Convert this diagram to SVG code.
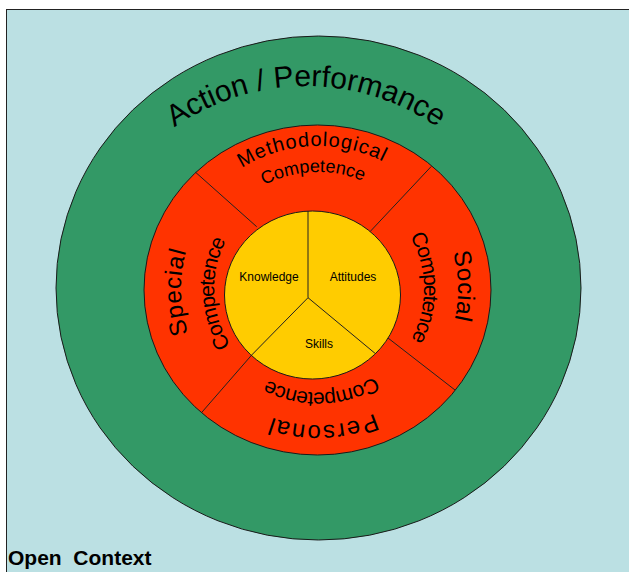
<svg xmlns="http://www.w3.org/2000/svg" width="629" height="572" viewBox="0 0 629 572">
<style>
  .lbl{font-family:"Liberation Sans",Arial,sans-serif;fill:#000}
  .edge{stroke:#1a1a1a;stroke-width:1}
  .div{stroke:#222;stroke-width:1;fill:none}
  .ring{font-size:24px}
  .sub{font-size:21px}
  .core{font-size:12px}
</style>
<defs>
  <!-- baselines for the curved ring labels (all run clockwise, letter tops outward) -->
  <path id="arc-action" d="M76,316 A230,230 0 0 1 536,316"/>
  <path id="arc-meth" d="M175.1,295 A143,143 0 0 1 460.9,283"/>
  <path id="arc-meth2" d="M201.1,294 A117,117 0 0 1 434.9,284"/>
  <path id="arc-soc" d="M315.1,149 A140,140 0 0 1 320.9,429"/>
  <path id="arc-soc2" d="M316.15,183 A106,106 0 0 1 319.85,395"/>
  <path id="arc-pers" d="M455.9,284 A138,138 0 0 1 180.1,294"/>
  <path id="arc-pers2" d="M423.9,285.1 A106,106 0 0 1 212.1,292.9"/>
  <path id="arc-spec" d="M321.1,426 A137,137 0 0 1 314.9,152"/>
  <path id="arc-spec2" d="M323.1,392.9 A104,104 0 0 1 312.9,185.1"/>
</defs>

<!-- open context -->
<g id="open-context">
  <rect x="6.5" y="9.5" width="700" height="700" fill="#BBE0E3" stroke="#222" stroke-width="1"/>
  <text class="lbl" x="8" y="565" font-size="21" font-weight="bold" xml:space="preserve">Open  Context</text>
</g>

<!-- outer ring: action / performance -->
<g id="action-performance">
  <ellipse class="edge" cx="318.5" cy="288" rx="262.5" ry="252" fill="#339966"/>
  <text class="lbl" font-size="30" text-anchor="middle"><textPath href="#arc-action" startOffset="50%">Action / Performance</textPath></text>
</g>

<!-- middle ring: four competences -->
<g id="competences">
  <ellipse class="edge" cx="317.5" cy="290" rx="173.5" ry="165" fill="#FF3300"/>
</g>

<g id="connectors">
  <line class="div" x1="195.7" y1="172.4" x2="256.7" y2="226.7"/>
  <line class="div" x1="431.3" y1="166.4" x2="370" y2="231.7"/>
  <line class="div" x1="201.4" y1="412.8" x2="251.7" y2="355"/>
  <line class="div" x1="455" y1="390" x2="388" y2="338"/>
</g>

<g id="methodological">
  <text class="lbl" font-size="20" letter-spacing="1" text-anchor="middle"><textPath href="#arc-meth" startOffset="50%">Methodological</textPath></text>
  <text class="lbl" font-size="18" text-anchor="middle"><textPath href="#arc-meth2" startOffset="50%">Competence</textPath></text>
</g>
<g id="social">
  <text class="lbl ring" letter-spacing="0.5" text-anchor="middle"><textPath href="#arc-soc" startOffset="50%">Social</textPath></text>
  <text class="lbl sub" letter-spacing="-1.2" text-anchor="middle"><textPath href="#arc-soc2" startOffset="50%">Competence</textPath></text>
</g>
<g id="personal">
  <text class="lbl ring" letter-spacing="1.5" text-anchor="middle"><textPath href="#arc-pers" startOffset="50%">Personal</textPath></text>
  <text class="lbl sub" letter-spacing="-0.8" text-anchor="middle"><textPath href="#arc-pers2" startOffset="50%">Competence</textPath></text>
</g>
<g id="special">
  <text class="lbl ring" letter-spacing="0.8" text-anchor="middle"><textPath href="#arc-spec" startOffset="50%">Special</textPath></text>
  <text class="lbl sub" letter-spacing="-1" text-anchor="middle"><textPath href="#arc-spec2" startOffset="50%">Competence</textPath></text>
</g>

<!-- core: knowledge, attitudes, skills -->
<g id="core">
  <ellipse class="edge" cx="312.5" cy="295" rx="88" ry="84" fill="#FFCC00"/>
  <line class="div" x1="308" y1="211" x2="308" y2="297.7"/>
  <line class="div" x1="308" y1="297.7" x2="251.7" y2="355"/>
  <line class="div" x1="308" y1="297.7" x2="375" y2="353.3"/>
</g>
<g id="knowledge"><text class="lbl core" x="269" y="281" text-anchor="middle">Knowledge</text></g>
<g id="attitudes"><text class="lbl core" x="353" y="281" text-anchor="middle">Attitudes</text></g>
<g id="skills"><text class="lbl core" x="319" y="348" text-anchor="middle">Skills</text></g>
</svg>
